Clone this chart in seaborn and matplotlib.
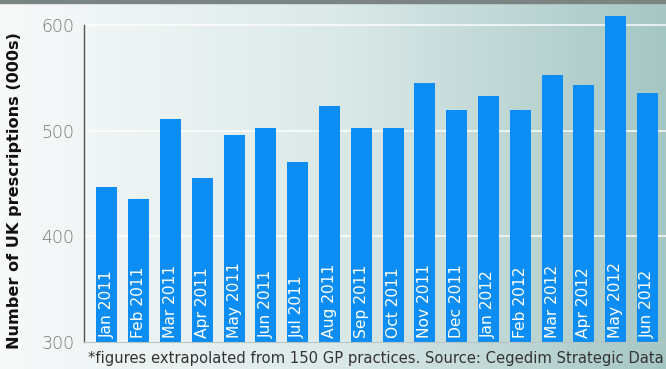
import numpy as np
import pandas as pd
import matplotlib
matplotlib.use("Agg")
import matplotlib.pyplot as plt
from matplotlib.colors import LinearSegmentedColormap
import seaborn as sns

# Data (thousands of prescriptions)
months = ["Jan 2011", "Feb 2011", "Mar 2011", "Apr 2011", "May 2011", "Jun 2011",
          "Jul 2011", "Aug 2011", "Sep 2011", "Oct 2011", "Nov 2011", "Dec 2011",
          "Jan 2012", "Feb 2012", "Mar 2012", "Apr 2012", "May 2012", "Jun 2012"]
values = [447, 435, 511, 455, 496, 503, 470, 523, 503, 503, 545, 520,
          533, 520, 553, 543, 609, 536]
yticks = [300, 400, 500, 600]

df = pd.DataFrame({"month": months, "value": values})

sns.set_style("white")
plt.rcParams["font.family"] = ["DejaVu Sans"]

fig = plt.figure(figsize=(6.66, 3.69), dpi=100)

# background gradient
bg = fig.add_axes([0, 0, 1, 1], zorder=0)
cmap = LinearSegmentedColormap.from_list("bg", ["#f8fafa", "#dce9e9", "#a5c7c4"])
grad = np.linspace(0, 1, 256).reshape(1, -1)
bg.imshow(grad, cmap=cmap, aspect="auto", extent=[0, 1, 0, 1])
bg.axhspan(0.991, 1.0, color="#7a8583")
bg.set_xlim(0, 1)
bg.set_ylim(0, 1)
bg.axis("off")

ax = fig.add_axes([84 / 666, 27 / 369, 582 / 666, 336 / 369], zorder=1)
ax.patch.set_alpha(0)

for v in [400, 500, 600]:
    ax.axhline(v, color="white", lw=1.3, alpha=0.8, zorder=0)

sns.barplot(data=df, x="month", y="value", color="#0c8df3", saturation=1,
            width=0.66, linewidth=0, ax=ax, zorder=2)

ax.set_ylim(300, 618)
ax.set_xlim(-0.72, 17.58)
ax.set_yticks(yticks)
ax.set_yticklabels([str(t) for t in yticks], color="#777777", fontsize=12.5,
                   fontweight="light")
ax.tick_params(axis="y", length=4, width=0.8, color="#9a9a9a", pad=3)
ax.set_xticks([])
ax.set_xlabel("")
ax.set_ylabel("Number of UK prescriptions (000s)", fontsize=11.6,
              fontweight="bold", color="#111111")
ax.yaxis.set_label_coords(-0.107, 0.45)

for s in ["top", "right"]:
    ax.spines[s].set_visible(False)
ax.spines["left"].set_bounds(300, 600)
ax.spines["left"].set_color("#555555")
ax.spines["left"].set_linewidth(1)
ax.spines["bottom"].set_color("#b9c4c4")
ax.spines["bottom"].set_linewidth(0.8)

# month labels inside bars
for i, m in enumerate(months):
    ax.text(i, 304, m, rotation=90, ha="center", va="bottom", color="white",
            fontsize=11.2, zorder=3)

fig.text(88 / 666, 1 - 358 / 369,
         "*figures extrapolated from 150 GP practices. Source: Cegedim Strategic Data",
         fontsize=10.6, color="#333333", va="center", ha="left")

fig.savefig("out.png", dpi=100)
